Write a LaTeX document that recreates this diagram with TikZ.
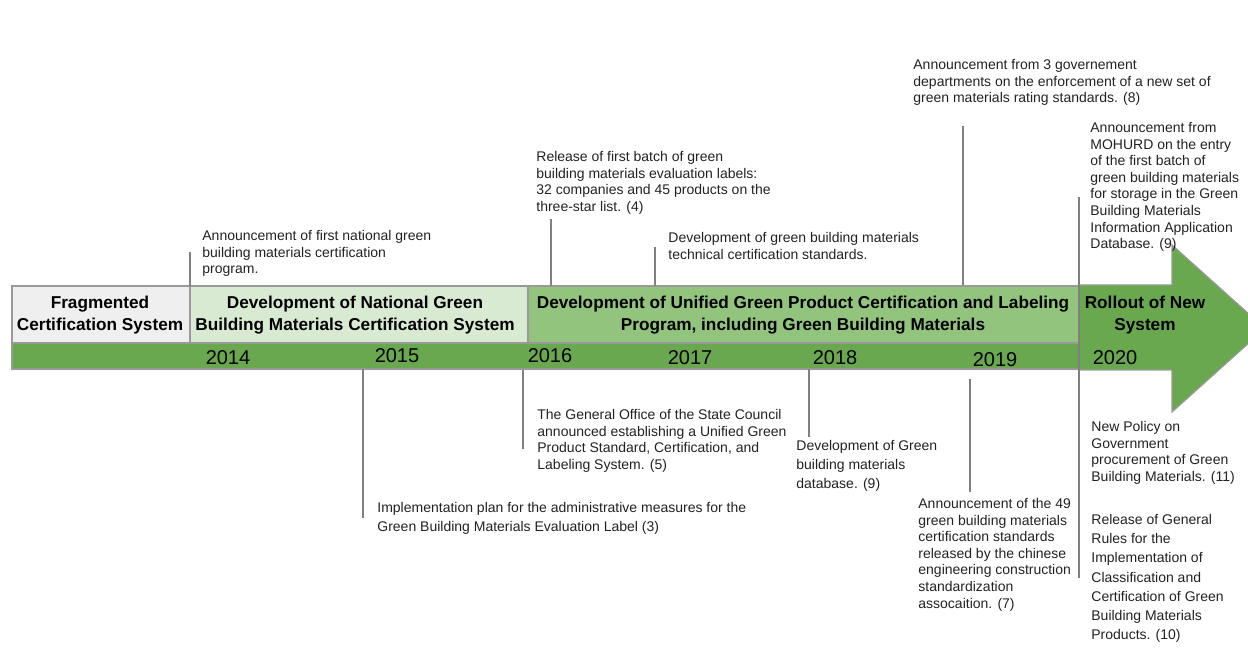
\documentclass[tikz,border=0pt]{standalone}
\usepackage{fontspec}
\setmainfont{Liberation Sans}
\definecolor{fraggray}{HTML}{EFEFEF}
\definecolor{natgreen}{HTML}{D9EAD3}
\definecolor{unigreen}{HTML}{93C47D}
\definecolor{bargreen}{HTML}{6AA84F}
\definecolor{edgegray}{HTML}{999999}
\definecolor{tickgray}{HTML}{808080}
\definecolor{txtgray}{HTML}{222222}
\begin{document}
\begin{tikzpicture}[x=0.5pt,y=-0.5pt,
  panel/.style={draw=edgegray, line width=0.6pt},
  tick/.style={draw=tickgray, line width=0.6pt},
  hdr/.style={font=\fontsize{8.6}{11}\selectfont\bfseries, align=center, inner sep=0pt, text=black},
  yr/.style={font=\fontsize{10}{12}\selectfont, inner sep=0pt, anchor=base, text=black},
  ann/.style={font=\fontsize{7}{8.3}\selectfont, align=left, anchor=north west, inner sep=0pt, text=txtgray},
  annwide/.style={ann, font=\fontsize{7}{9.6}\selectfont}
]
\useasboundingbox (0,0) rectangle (1248,651);
\clip (0,0) rectangle (1248,651);

% header panels and bar
\path[panel, fill=fraggray] (12,286) rectangle (190,343);
\path[panel, fill=natgreen] (190,286) rectangle (528,343);
\path[panel, fill=unigreen] (528,286) rectangle (1079,343);
\path[panel, fill=bargreen] (12,343) rectangle (1079,369);
% arrow
\path[fill=bargreen, draw=edgegray, line width=0.6pt]
  (1079,285) -- (1172,285) -- (1172,245) -- (1265,328.5) -- (1172,412) -- (1172,370) -- (1079,370) -- cycle;
\path[fill=bargreen] (1080,286) rectangle (1171,369);

% header texts
\node[hdr] (frag) at (100,315) {Fragmented\\Certification System};
\node[hdr] (nat) at (355,315) {Development of National Green\\Building Materials Certification System};
\node[hdr] (uni) at (803,315) {Development of Unified Green Product Certification and Labeling\\Program, including Green Building Materials};
\node[hdr] (roll) at (1145,315) {Rollout of New\\System};

% years
\node[yr] (y2014) at (228,365) {2014};
\node[yr] (y2015) at (397,363) {2015};
\node[yr] (y2016) at (550,363) {2016};
\node[yr] (y2017) at (690,365) {2017};
\node[yr] (y2018) at (835,365) {2018};
\node[yr] (y2019) at (995,367) {2019};
\node[yr] (y2020) at (1115,365) {2020};

% connector end points
\coordinate (c1a) at (190,252);  \coordinate (c1b) at (190,286);
\coordinate (c2a) at (551,219);  \coordinate (c2b) at (551,286);
\coordinate (c3a) at (655,247);  \coordinate (c3b) at (655,286);
\coordinate (c4a) at (963,126);  \coordinate (c4b) at (963,285);
\coordinate (c5a) at (1079,197); \coordinate (c5b) at (1079,578);
\coordinate (c6a) at (363,369);  \coordinate (c6b) at (363,518);
\coordinate (c7a) at (523,370);  \coordinate (c7b) at (523,449);
\coordinate (c8a) at (809,369);  \coordinate (c8b) at (809,437);
\coordinate (c9a) at (970,379);  \coordinate (c9b) at (970,492);
\foreach \i in {1,...,9} {\draw[tick] (c\i a) -- (c\i b);}

% annotations above
\node[ann] (a1) at (202,230) {Announcement of first national green\\building materials certification\\program.};
\node[ann] (a2) at (536,151) {Release of first batch of green\\building materials evaluation labels:\\32 companies and 45 products on the\\three-star list. (4)};
\node[ann] (a3) at (668,232) {Development of green building materials\\technical certification standards.};
\node[ann] (a4) at (913,59) {Announcement from 3 governement\\departments on the enforcement of a new set of\\green materials rating standards. (8)};
\node[ann] (a5) at (1090,122) {Announcement from\\MOHURD on the entry\\of the first batch of\\green building materials\\for storage in the Green\\Building Materials\\Information Application\\Database. (9)};

% annotations below
\node[ann] (b1) at (537,409) {The General Office of the State Council\\announced establishing a Unified Green\\Product Standard, Certification, and\\Labeling System. (5)};
\node[annwide] (b2) at (377,502) {Implementation plan for the administrative measures for the\\Green Building Materials Evaluation Label (3)};
\node[annwide] (b3) at (796,440) {Development of Green\\building materials\\database. (9)};
\node[ann] (b4) at (918,498) {Announcement of the 49\\green building materials\\certification standards\\released by the chinese\\engineering construction\\standardization\\assocaition. (7)};
\node[ann] (b5) at (1091,421) {New Policy on\\Government\\procurement of Green\\Building Materials. (11)};
\node[annwide] (b6) at (1091,514) {Release of General\\Rules for the\\Implementation of\\Classification and\\Certification of Green\\Building Materials\\Products. (10)};
\end{tikzpicture}
\end{document}
